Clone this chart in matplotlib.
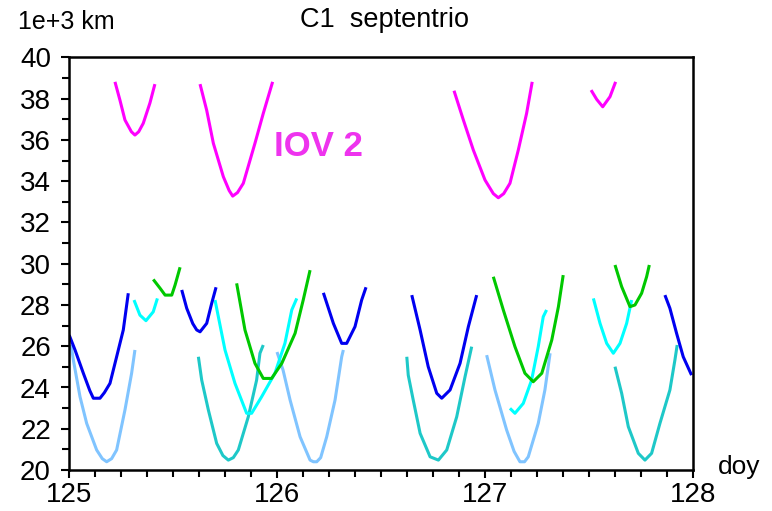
import matplotlib
matplotlib.use('Agg')
import matplotlib.pyplot as plt
import numpy as np
from matplotlib.ticker import MultipleLocator

plt.rcParams['font.family'] = ['Liberation Sans', 'DejaVu Sans']

# range arcs: (doy, range in 1e3 km)
mag1_x = [125.221, 125.245, 125.269, 125.300, 125.317, 125.335, 125.357, 125.389, 125.413]
mag1_y = [38.82, 37.93, 36.97, 36.40, 36.24, 36.40, 36.81, 37.79, 38.71]
mag2_x = [125.630, 125.662, 125.694, 125.742, 125.770, 125.787, 125.810, 125.838, 125.894, 125.934, 125.979]
mag2_y = [38.71, 37.44, 35.84, 34.22, 33.55, 33.28, 33.45, 33.90, 35.84, 37.29, 38.82]
mag3_x = [126.851, 126.896, 126.944, 127.000, 127.040, 127.064, 127.090, 127.120, 127.160, 127.200, 127.227]
mag3_y = [38.39, 36.97, 35.51, 34.06, 33.40, 33.20, 33.40, 33.90, 35.51, 37.29, 38.82]
mag4_x = [127.510, 127.537, 127.566, 127.601, 127.628]
mag4_y = [38.42, 37.97, 37.61, 38.10, 38.82]

blue1_x = [125.001, 125.029, 125.069, 125.100, 125.117, 125.149, 125.170, 125.197, 125.229, 125.261, 125.285]
blue1_y = [26.54, 25.82, 24.69, 23.85, 23.48, 23.48, 23.75, 24.20, 25.49, 26.79, 28.57]
blue2_x = [125.542, 125.566, 125.595, 125.614, 125.630, 125.662, 125.686, 125.707]
blue2_y = [28.73, 27.84, 27.10, 26.79, 26.70, 27.11, 28.08, 28.86]
blue3_x = [126.223, 126.271, 126.311, 126.335, 126.375, 126.407, 126.428]
blue3_y = [28.59, 27.11, 26.14, 26.14, 26.95, 28.24, 28.86]
blue4_x = [126.648, 126.688, 126.727, 126.768, 126.792, 126.832, 126.880, 126.920, 126.960]
blue4_y = [28.48, 26.79, 25.01, 23.72, 23.48, 23.88, 25.17, 26.95, 28.48]
blue5_x = [127.865, 127.889, 127.921, 127.953, 127.993]
blue5_y = [28.48, 27.84, 26.63, 25.49, 24.60]

lblue1_x = [125.010, 125.021, 125.053, 125.085, 125.133, 125.160, 125.181, 125.205, 125.229, 125.269, 125.301, 125.317]
lblue1_y = [26.06, 25.33, 23.55, 22.26, 20.97, 20.55, 20.40, 20.55, 20.97, 22.91, 24.69, 25.82]
lblue2_x = [126.000, 126.029, 126.063, 126.111, 126.159, 126.175, 126.191, 126.210, 126.239, 126.279, 126.311, 126.319]
lblue2_y = [25.72, 24.85, 23.39, 21.61, 20.48, 20.40, 20.40, 20.60, 21.61, 23.39, 25.49, 25.82]
lblue3_x = [127.008, 127.048, 127.104, 127.140, 127.168, 127.190, 127.208, 127.256, 127.288, 127.313]
lblue3_y = [25.57, 23.88, 21.94, 20.90, 20.40, 20.40, 20.64, 22.26, 23.88, 25.66]

cyan1_x = [125.3125, 125.341, 125.370, 125.405, 125.425]
cyan1_y = [28.24, 27.51, 27.24, 27.67, 28.32]
cyan2_x = [125.702, 125.750, 125.798, 125.854, 125.878, 125.926, 125.990, 126.038, 126.071, 126.095]
cyan2_y = [28.24, 25.82, 24.20, 22.75, 22.75, 23.55, 24.69, 26.14, 27.76, 28.32]
cyan3_x = [127.120, 127.144, 127.184, 127.224, 127.256, 127.280, 127.296]
cyan3_y = [22.99, 22.75, 23.23, 24.36, 25.98, 27.43, 27.76]
cyan4_x = [127.521, 127.553, 127.585, 127.617, 127.649, 127.681, 127.705]
cyan4_y = [28.32, 27.11, 26.14, 25.66, 26.14, 27.11, 28.24]

teal1_x = [125.622, 125.638, 125.670, 125.710, 125.740, 125.766, 125.790, 125.814, 125.862, 125.902, 125.918, 125.934]
teal1_y = [25.49, 24.36, 22.91, 21.29, 20.70, 20.48, 20.60, 20.97, 22.58, 24.36, 25.66, 26.06]
teal2_x = [126.624, 126.631, 126.655, 126.688, 126.736, 126.776, 126.816, 126.864, 126.904, 126.936]
teal2_y = [25.49, 24.60, 23.39, 21.78, 20.64, 20.48, 20.97, 22.58, 24.52, 25.98]
teal3_x = [127.625, 127.657, 127.689, 127.737, 127.769, 127.801, 127.841, 127.889, 127.913, 127.924]
teal3_y = [25.01, 23.72, 22.10, 20.81, 20.48, 20.81, 22.26, 23.88, 25.33, 26.06]

green1_x = [125.405, 125.438, 125.462, 125.494, 125.510, 125.534]
green1_y = [29.24, 28.81, 28.48, 28.48, 28.97, 29.83]
green2_x = [125.806, 125.846, 125.894, 125.934, 125.974, 126.023, 126.087, 126.126, 126.159]
green2_y = [29.05, 26.79, 25.17, 24.44, 24.44, 25.17, 26.63, 28.24, 29.69]
green3_x = [127.040, 127.088, 127.144, 127.192, 127.232, 127.273, 127.321, 127.353, 127.376]
green3_y = [29.37, 27.76, 25.98, 24.69, 24.28, 24.69, 26.30, 27.92, 29.45]
green4_x = [127.625, 127.657, 127.697, 127.721, 127.753, 127.777, 127.790]
green4_y = [29.94, 28.89, 27.92, 28.00, 28.57, 29.37, 29.94]

arcs = [
    ('#80c4ff', [(lblue1_x, lblue1_y), (lblue2_x, lblue2_y), (lblue3_x, lblue3_y)]),
    ('#1ec8c8', [(teal1_x, teal1_y), (teal2_x, teal2_y), (teal3_x, teal3_y)]),
    ('#00ffff', [(cyan1_x, cyan1_y), (cyan2_x, cyan2_y), (cyan3_x, cyan3_y), (cyan4_x, cyan4_y)]),
    ('#00c800', [(green1_x, green1_y), (green2_x, green2_y), (green3_x, green3_y), (green4_x, green4_y)]),
    ('#0000f0', [(blue1_x, blue1_y), (blue2_x, blue2_y), (blue3_x, blue3_y), (blue4_x, blue4_y), (blue5_x, blue5_y)]),
    ('#ff00ff', [(mag1_x, mag1_y), (mag2_x, mag2_y), (mag3_x, mag3_y), (mag4_x, mag4_y)]),
]

fig = plt.figure(figsize=(7.72, 5.11), dpi=100)
ax = fig.add_axes([69/772, 1-470/511, (693-69)/772, (470-57.5)/511])

for col, segs in arcs:
    for sx, sy in segs:
        ax.plot(sx, sy, color=col, linewidth=2.2, solid_capstyle='butt')

ax.set_xlim(125, 128)
ax.set_ylim(20, 40)
ax.xaxis.set_major_locator(MultipleLocator(1))
ax.xaxis.set_minor_locator(MultipleLocator(0.125))
ax.yaxis.set_major_locator(MultipleLocator(2))
ax.yaxis.set_minor_locator(MultipleLocator(1))
ax.tick_params(which='both', direction='out', width=1.5, colors='black', labelsize=20)
ax.tick_params(which='major', length=6)
ax.tick_params(which='minor', length=5)
ax.tick_params(axis='y', pad=7)
ax.tick_params(axis='x', pad=3)
for s in ax.spines.values():
    s.set_linewidth(1.8)

ax.text(126.197, 35.7, 'IOV 2', color='#ee33ee', fontsize=25, fontweight='bold',
        ha='center', va='center')

fig.text(18/772, 1-22/511, '1e+3 km', fontsize=18, ha='left', va='center')
fig.text(385/772, 1-20/511, 'C1  septentrio', fontsize=19.5, ha='center', va='center')
fig.text(718/772, 1-467/511, 'doy', fontsize=19, ha='left', va='center')

plt.savefig('out.png', dpi=100)
